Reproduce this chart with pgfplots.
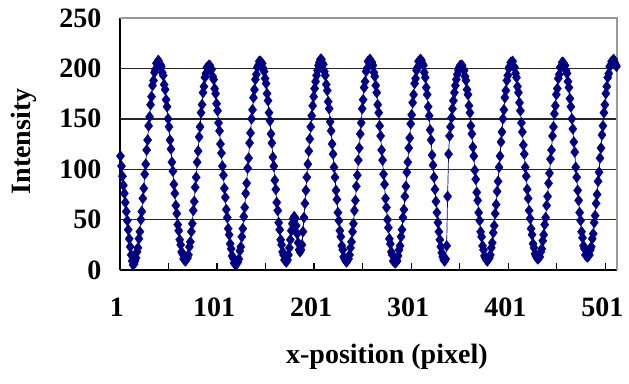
\documentclass[border=0pt]{standalone}
\usepackage{fontspec}
\setmainfont{Liberation Serif}
\usepackage{pgfplots}
\pgfplotsset{compat=1.18}
\definecolor{navy}{RGB}{0,0,128}
\begin{document}
\begin{tikzpicture}
\useasboundingbox (-120pt,-113pt) rectangle (509pt,270pt);
\begin{axis}[
  at={(0pt,0pt)}, anchor=south west,
  scale only axis, width=497pt, height=252pt,
  xmin=0.5, xmax=512.5, ymin=0, ymax=250,
  axis x line*=bottom, axis y line*=left,
  axis line style={black, line width=1.3pt, -},
  xtick={0.5,100.5,200.5,300.5,400.5,500.5},
  xticklabels={1,101,201,301,401,501},
  minor xtick={50.5,150.5,250.5,350.5,450.5},
  tick align=inside,
  major tick length=7pt, minor tick length=7pt,
  xtick style={black, line width=1.3pt},
  minor tick style={black, line width=1.3pt},
  ytick={0,50,100,150,200,250},
  ytick style={draw=none},
  ymajorgrids, grid style={black!85, line width=1.4pt},
  /pgf/number format/assume math mode=true,
  tick label style={font=\fontsize{28}{30}\selectfont\bfseries},
  yticklabel style={xshift=-15pt},
  xticklabel style={yshift=-24pt, xshift=-3pt},
  xlabel={x-position (pixel)}, ylabel={Intensity},
  label style={font=\fontsize{28}{30}\selectfont\bfseries},
  xlabel style={at={(axis description cs:0.537,-0.345)}, anchor=center},
  ylabel style={at={(axis description cs:-0.193,0.51)}, anchor=center},
  clip=false,
]
\addplot[navy, line width=0.7pt, mark=diamond*, mark size=5.5pt,
  mark options={fill=navy, draw=navy, line width=0.3pt}]
  table[row sep=\\] {x y\\
1 113\\2 103\\3 93\\4 84\\5 76\\6 67\\7 58\\8 49\\9 40\\10 31\\
11 23\\12 15\\13 9\\14 5\\
15 6\\16 9\\17 12\\18 18\\19 22\\20 31\\21 38\\22 50\\23 58\\24 71\\25 81\\26 95\\27 105\\28 119\\29 129\\30 143\\31 152\\32 164\\33 172\\34 183\\35 188\\36 196\\37 199\\38 205\\39 204\\40 208\\
41 205\\42 204\\43 202\\44 196\\45 193\\46 184\\47 179\\48 169\\49 162\\50 150\\51 142\\52 129\\53 120\\54 107\\55 98\\56 85\\57 76\\58 64\\59 56\\60 45\\61 39\\62 30\\63 25\\64 18\\65 16\\66 11\\67 10\\68 9\\
69 11\\70 12\\71 15\\72 23\\73 28\\74 38\\75 46\\76 59\\77 68\\78 82\\79 92\\80 107\\81 118\\82 132\\83 142\\84 156\\85 164\\86 176\\87 182\\88 191\\89 195\\90 201\\91 201\\92 203\\
93 203\\94 200\\95 199\\96 192\\97 189\\98 180\\99 175\\100 165\\101 158\\102 146\\103 138\\104 125\\105 116\\106 103\\107 94\\108 81\\109 72\\110 60\\111 52\\112 41\\113 35\\114 26\\115 21\\116 14\\117 12\\118 7\\119 6\\120 5\\
121 7\\122 8\\123 11\\124 19\\125 23\\126 33\\127 41\\128 53\\129 62\\130 76\\131 86\\132 101\\133 111\\134 126\\135 136\\136 150\\137 159\\138 171\\139 179\\140 189\\141 194\\142 201\\143 203\\144 207\\145 207\\
146 206\\147 205\\148 200\\149 197\\150 190\\151 185\\152 175\\153 168\\154 156\\155 148\\156 135\\157 126\\158 112\\159 103\\160 89\\161 80\\162 67\\163 59\\164 47\\165 40\\166 30\\167 25\\168 18\\169 15\\170 10\\171 9\\172 8\\
173 10\\174 15\\175 22\\176 30\\177 39\\178 46\\179 51\\180 53\\
181 51\\182 44\\183 36\\184 27\\185 20\\186 18\\
187 20\\188 25\\189 38\\190 52\\191 66\\192 79\\193 92\\194 105\\195 118\\196 130\\197 142\\198 153\\199 163\\200 172\\201 180\\202 187\\203 193\\204 198\\205 203\\206 206\\207 209\\
208 209\\209 205\\210 204\\211 197\\212 193\\213 184\\214 178\\215 167\\216 160\\217 147\\218 138\\219 125\\220 115\\221 102\\222 92\\223 79\\224 70\\225 57\\226 49\\227 39\\228 33\\229 24\\230 20\\231 13\\232 11\\233 9\\234 8\\
235 10\\236 11\\237 15\\238 22\\239 28\\240 38\\241 46\\242 59\\243 69\\244 83\\245 94\\246 109\\247 121\\248 135\\249 146\\250 160\\251 169\\252 181\\253 187\\254 197\\255 200\\256 207\\257 207\\258 209\\
259 207\\260 206\\261 203\\262 196\\263 192\\264 183\\265 176\\266 164\\267 156\\268 143\\269 133\\270 119\\271 109\\272 95\\273 85\\274 71\\275 62\\276 50\\277 42\\278 31\\279 26\\280 18\\281 15\\282 9\\283 8\\284 7\\
285 8\\286 9\\287 14\\288 20\\289 24\\290 33\\291 40\\292 52\\293 60\\294 73\\295 83\\296 97\\297 107\\298 121\\299 131\\300 145\\301 154\\302 166\\303 174\\304 185\\305 190\\306 198\\307 201\\308 207\\309 207\\310 209\\
311 208\\312 205\\313 203\\314 196\\315 191\\316 181\\317 174\\318 162\\319 153\\320 139\\321 129\\322 114\\323 104\\324 92\\325 80\\326 68\\327 57\\328 47\\329 38\\330 30\\331 23\\332 17\\333 13\\334 10\\335 9\\
336 11\\337 24\\338 73\\339 115\\340 133\\341 142\\342 151\\343 160\\344 168\\345 176\\346 183\\347 189\\348 194\\349 198\\350 201\\351 203\\352 203\\
353 203\\354 199\\355 198\\356 192\\357 188\\358 179\\359 174\\360 163\\361 156\\362 143\\363 135\\364 122\\365 113\\366 99\\367 90\\368 77\\369 69\\370 57\\371 49\\372 38\\373 33\\374 24\\375 20\\376 14\\377 12\\378 10\\379 9\\
380 11\\381 12\\382 15\\383 22\\384 27\\385 37\\386 44\\387 56\\388 65\\389 78\\390 88\\391 102\\392 113\\393 127\\394 137\\395 150\\396 159\\397 171\\398 178\\399 188\\400 193\\401 200\\402 202\\403 206\\404 206\\
405 207\\406 202\\407 201\\408 195\\409 191\\410 182\\411 176\\412 166\\413 158\\414 146\\415 137\\416 124\\417 115\\418 102\\419 93\\420 80\\421 71\\422 59\\423 51\\424 41\\425 35\\426 26\\427 22\\428 16\\429 14\\430 12\\431 11\\
432 12\\433 13\\434 18\\435 21\\436 29\\437 35\\438 45\\439 52\\440 64\\441 73\\442 86\\443 96\\444 110\\445 119\\446 133\\447 142\\448 155\\449 163\\450 174\\451 180\\452 190\\453 194\\454 201\\455 202\\456 206\\457 206\\
458 204\\459 203\\460 198\\461 195\\462 187\\463 181\\464 170\\465 162\\466 150\\467 140\\468 127\\469 117\\470 102\\471 92\\472 79\\473 69\\474 57\\475 49\\476 38\\477 32\\478 24\\479 21\\480 15\\481 14\\482 13\\
483 14\\484 15\\485 20\\486 23\\487 31\\488 36\\489 47\\490 54\\491 66\\492 75\\493 88\\494 97\\495 111\\496 121\\497 134\\498 143\\499 156\\500 164\\501 175\\502 182\\503 191\\504 195\\505 202\\506 203\\507 207\\508 207\\
509 209\\510 206\\511 204\\512 202\\
};
\draw[black!40, line width=1.5pt] (rel axis cs:0,1) -- (rel axis cs:1,1) -- (rel axis cs:1,0);
\end{axis}
\end{tikzpicture}
\end{document}
